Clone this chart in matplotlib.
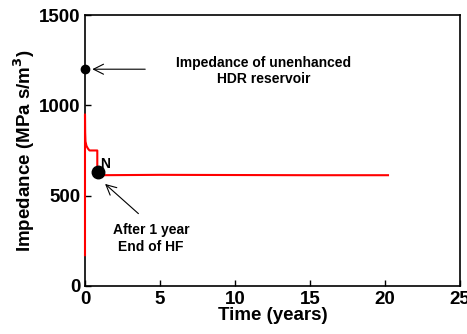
import matplotlib
matplotlib.use("Agg")
import matplotlib.pyplot as plt

# Impedance history
time_years = [0.0, 0.0, 0.0, 0.01, 0.03, 0.1, 0.2, 0.3, 0.82, 0.82, 1.0, 5.0, 10.0, 15.0, 20.2]
impedance = [170, 950, 950, 850, 800, 775, 760, 750, 750, 615, 613, 615, 614, 613, 613]

point_unenhanced = (0.0, 1200)
point_n = (0.85, 628)

plt.rcParams['font.family'] = ['Liberation Sans', 'DejaVu Sans']
plt.rcParams['font.weight'] = 'bold'

fig = plt.figure(figsize=(4.67, 3.34), dpi=100)
ax = fig.add_axes([0.182, 0.144, 0.803, 0.811])

ax.plot(time_years, impedance, color="red", lw=1.5, zorder=4, clip_on=False)
ax.plot(*point_unenhanced, "o", color="black", ms=6, zorder=5, clip_on=False)
ax.plot(*point_n, "o", color="black", ms=9, zorder=5)

ax.annotate("", xy=(0.3, 1200), xytext=(4.2, 1200),
            arrowprops=dict(arrowstyle="->", color="black", lw=0.8,
                            mutation_scale=18))
ax.text(11.9, 1190, "Impedance of unenhanced\nHDR reservoir", ha="center",
        va="center", fontsize=10, fontweight="bold", linespacing=1.2)

ax.annotate("", xy=(1.2, 575), xytext=(3.7, 390),
            arrowprops=dict(arrowstyle="->", color="black", lw=0.8,
                            mutation_scale=18))
ax.text(4.4, 262, "After 1 year\nEnd of HF", ha="center", va="center",
        fontsize=10, fontweight="bold", linespacing=1.2)
ax.text(1.35, 675, "N", fontsize=10, fontweight="bold", ha="center", va="center")

ax.set_xlim(0, 25)
ax.set_ylim(0, 1500)
ax.set_xticks([0, 5, 10, 15, 20, 25])
ax.set_yticks([0, 500, 1000, 1500])
ax.tick_params(direction="in", labelsize=13.5, width=1, length=4)
ax.tick_params(axis="x", pad=4)
ax.tick_params(axis="y", pad=3)
for lab in ax.get_xticklabels() + ax.get_yticklabels():
    lab.set_fontweight("bold")
for sp in ax.spines.values():
    sp.set_linewidth(1.2)

ax.set_xlabel("Time (years)", fontsize=13.5, fontweight="bold", labelpad=-1)
ax.set_ylabel("Impedance (MPa s/m$^\\mathbf{3}$)", fontsize=13.5,
              fontweight="bold", labelpad=2)

fig.savefig("out.png", dpi=100)
